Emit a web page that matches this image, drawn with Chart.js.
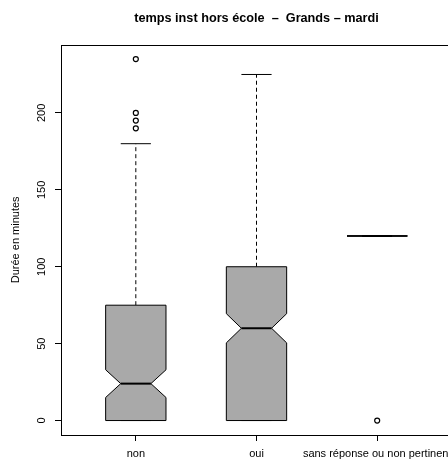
<!DOCTYPE html>
<html>
<head>
<meta charset="utf-8">
<script src="https://cdn.jsdelivr.net/npm/chart.js@4"></script>
<style>
  html, body { margin: 0; padding: 0; background: #fff; }
  .wrap { width: 448px; height: 459px; overflow: hidden; position: relative; }
  canvas { display: block; }
</style>
</head>
<body>
<div class="wrap">
  <canvas class="graph" width="480" height="459"></canvas>
</div>
<script>
// categories and box statistics
let categories = ['non', 'oui', 'sans réponse ou non pertinent'];
let lowWhisker = [0, 0, 120];
let q1 = [0, 0, 120];
let notchLow = [15, 50.5, 120];
let median = [24, 60, 120];
let notchHigh = [33, 69.5, 120];
let q3 = [75, 100, 120];
let highWhisker = [180, 225, 120];
let outliers = [[190, 195, 200, 235], [], [0]];
let yTicks = [0, 50, 100, 150, 200];

// outlier points for the scatter dataset
let outlierPoints = [];
outliers.forEach((list, i) => {
  list.forEach(v => outlierPoints.push({ x: i + 1, y: v }));
});

let boxHalf = 0.25; // half box width in x units

// draws the notched boxes, whiskers and medians with the chart scales
let boxPlugin = {
  id: 'boxes',
  beforeDatasetsDraw(chart) {
    let ctx = chart.ctx;
    let xs = chart.scales.x;
    let ys = chart.scales.y;
    ctx.save();
    categories.forEach((c, i) => {
      let x = xs.getPixelForValue(i + 1);
      let hw = xs.getPixelForValue(i + 1 + boxHalf) - x;
      let nw = hw / 2;
      let yq1 = ys.getPixelForValue(q1[i]);
      let yq3 = ys.getPixelForValue(q3[i]);
      let ynl = ys.getPixelForValue(notchLow[i]);
      let ynh = ys.getPixelForValue(notchHigh[i]);
      let ym = ys.getPixelForValue(median[i]);
      let ylw = ys.getPixelForValue(lowWhisker[i]);
      let yhw = ys.getPixelForValue(highWhisker[i]);

      // whiskers (dashed)
      ctx.strokeStyle = '#000';
      ctx.lineWidth = 1;
      ctx.setLineDash([4, 3]);
      ctx.beginPath();
      ctx.moveTo(x, yq3); ctx.lineTo(x, yhw);
      ctx.moveTo(x, yq1); ctx.lineTo(x, ylw);
      ctx.stroke();
      ctx.setLineDash([]);

      // caps
      ctx.beginPath();
      ctx.moveTo(x - nw, yhw); ctx.lineTo(x + nw, yhw);
      ctx.moveTo(x - nw, ylw); ctx.lineTo(x + nw, ylw);
      ctx.stroke();

      // notched box
      ctx.beginPath();
      ctx.moveTo(x - hw, yq1);
      ctx.lineTo(x - hw, ynl);
      ctx.lineTo(x - nw, ym);
      ctx.lineTo(x - hw, ynh);
      ctx.lineTo(x - hw, yq3);
      ctx.lineTo(x + hw, yq3);
      ctx.lineTo(x + hw, ynh);
      ctx.lineTo(x + nw, ym);
      ctx.lineTo(x + hw, ynl);
      ctx.lineTo(x + hw, yq1);
      ctx.closePath();
      ctx.fillStyle = '#a9a9a9';
      ctx.fill();
      ctx.stroke();

      // median
      ctx.lineWidth = 2;
      ctx.beginPath();
      ctx.moveTo(x - nw, ym); ctx.lineTo(x + nw, ym);
      ctx.stroke();
    });
    ctx.restore();
  },
  afterDatasetsDraw(chart) {
    // frame round the plot area
    let a = chart.chartArea;
    let ctx = chart.ctx;
    ctx.save();
    ctx.strokeStyle = '#000';
    ctx.lineWidth = 1;
    ctx.strokeRect(Math.round(a.left) + 0.5, Math.round(a.top) + 0.5,
      Math.round(a.right - a.left), Math.round(a.bottom - a.top));
    ctx.restore();
  }
};

Chart.defaults.font.family = '"Liberation Sans", Arial, Helvetica, sans-serif';
Chart.defaults.color = '#000';

let graphEl = document.querySelector('.graph');

let graph = new Chart(graphEl, {
  type: 'scatter',
  data: {
    datasets: [{
      data: outlierPoints,
      pointStyle: 'circle',
      pointRadius: 2.5,
      borderWidth: 1.2,
      borderColor: '#000',
      backgroundColor: 'rgba(0,0,0,0)'
    }]
  },
  plugins: [boxPlugin],
  options: {
    responsive: false,
    animation: false,
    devicePixelRatio: 1,
    layout: { padding: { left: 0, right: 28, top: 0, bottom: 0 } },
    plugins: {
      legend: { display: false },
      tooltip: { enabled: false },
      title: {
        display: true,
        text: 'temps inst hors école  –  Grands – mardi',
        fullSize: false,
        color: '#000',
        font: { size: 12.7, weight: 'bold' },
        padding: { top: 11, bottom: 18.4 }
      }
    },
    scales: {
      x: {
        type: 'linear',
        min: 0.38,
        max: 3.62,
        afterBuildTicks: scale => {
          scale.ticks = categories.map((c, i) => ({ value: i + 1 }));
        },
        afterFit: scale => { scale.height = 24; },
        border: { display: false },
        grid: {
          display: true,
          drawOnChartArea: false,
          drawTicks: true,
          tickLength: 6,
          color: '#000'
        },
        ticks: {
          autoSkip: false,
          maxRotation: 0,
          minRotation: 0,
          padding: 6.5,
          font: { size: 11 },
          callback: v => categories[v - 1]
        }
      },
      y: {
        min: -9.4,
        max: 244.4,
        afterBuildTicks: scale => {
          scale.ticks = yTicks.map(v => ({ value: v }));
        },
        afterFit: scale => { scale.width = 61; },
        border: { display: false },
        grid: {
          display: true,
          drawOnChartArea: false,
          drawTicks: true,
          tickLength: 6,
          color: '#000'
        },
        ticks: {
          minRotation: 90,
          maxRotation: 90,
          crossAlign: 'center',
          padding: 4,
          font: { size: 11 }
        },
        title: {
          display: true,
          text: 'Durée en minutes',
          font: { size: 11 },
          padding: { top: 9.4, bottom: 0 }
        }
      }
    }
  }
});
</script>
</body>
</html>
